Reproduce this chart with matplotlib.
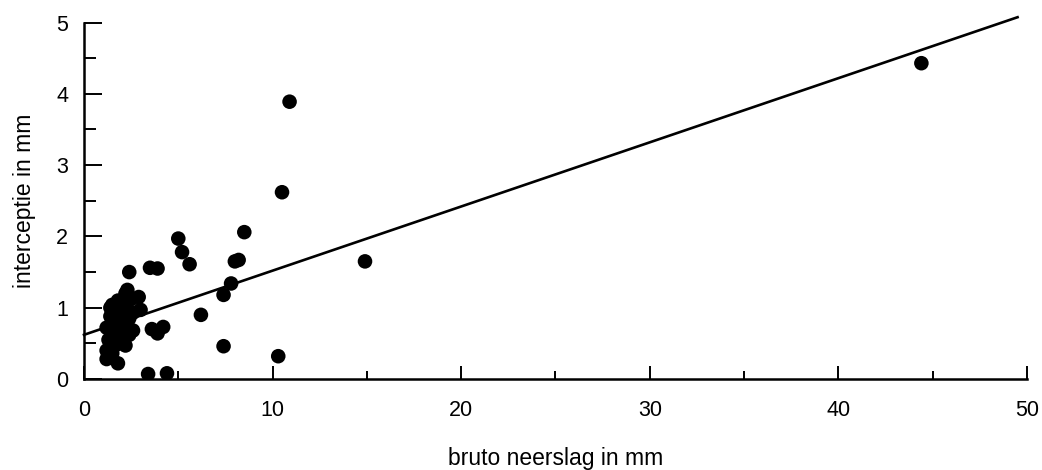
import matplotlib
matplotlib.use("Agg")
import matplotlib.pyplot as plt
import numpy as np

# data: bruto neerslag (mm) vs interceptie (mm)
neerslag = [44.4, 10.9, 10.5, 8.5, 8.2, 8.0, 14.9, 5.0, 5.2, 5.6,
            3.5, 3.9, 7.8, 7.4, 6.2, 3.6, 3.9, 4.2, 7.4, 10.3,
            3.4, 4.4,
            2.4, 2.3, 2.2, 2.9, 2.5, 1.8, 1.5, 1.4, 2.1, 3.0,
            1.7, 2.6, 1.4, 2.0, 2.4, 1.6, 1.2, 2.3, 1.9, 2.6,
            1.5, 1.8, 2.4, 1.3, 2.2, 1.7, 1.2, 1.5, 1.2, 1.8,
            1.9, 1.6]
interceptie = [4.43, 3.89, 2.62, 2.06, 1.67, 1.65, 1.65, 1.97, 1.78, 1.61,
               1.56, 1.55, 1.34, 1.18, 0.90, 0.70, 0.64, 0.73, 0.46, 0.32,
               0.07, 0.08,
               1.50, 1.25, 1.20, 1.15, 1.12, 1.10, 1.04, 1.00, 1.02, 0.97,
               0.95, 0.93, 0.88, 0.86, 0.85, 0.80, 0.72, 0.75, 0.70, 0.68,
               0.65, 0.58, 0.62, 0.55, 0.47, 0.48, 0.40, 0.36, 0.28, 0.22,
               0.78, 0.92]

# regression line parameters
fit_intercept = 0.62
fit_slope = 0.09
fit_range = [0, 49.5]

x_ticks_major = [0, 10, 20, 30, 40, 50]
y_ticks_major = [0, 1, 2, 3, 4, 5]

plt.rcParams['font.family'] = ['Liberation Sans', 'DejaVu Sans']

fig = plt.figure(figsize=(10.42, 4.70), dpi=100)
ax = fig.add_axes([0.0806, 0.1936, 0.905, 0.7584])

ax.scatter(neerslag, interceptie, s=110, color='black', edgecolors='none', zorder=3)

xf = np.array(fit_range)
ax.plot(xf, fit_intercept + fit_slope * xf, color='black', lw=1.9, zorder=2,
        clip_on=False)

ax.set_xlim(0, 50)
ax.set_ylim(0, 5)
ax.set_xticks(x_ticks_major)
ax.set_xticks(np.arange(0, 51, 5), minor=True)
ax.set_yticks(y_ticks_major)
ax.set_yticks(np.arange(0, 5.01, 0.5), minor=True)

for s in ['top', 'right']:
    ax.spines[s].set_visible(False)
for s in ['left', 'bottom']:
    ax.spines[s].set_linewidth(1.8)

ax.tick_params(axis='x', which='major', direction='in', length=9.4, width=1.4,
               pad=15, labelsize=15.5)
ax.tick_params(axis='x', which='minor', direction='in', length=5.8, width=1.4)
ax.tick_params(axis='y', which='major', direction='in', length=13, width=1.4,
               pad=11.5, labelsize=15.5)
ax.tick_params(axis='y', which='minor', direction='in', length=8.6, width=1.4)

ax.set_xlabel('bruto neerslag in mm', fontsize=16.5, labelpad=19)
ax.set_ylabel('interceptie in mm', fontsize=16.5, labelpad=14)

fig.savefig('out.png', dpi=100)
